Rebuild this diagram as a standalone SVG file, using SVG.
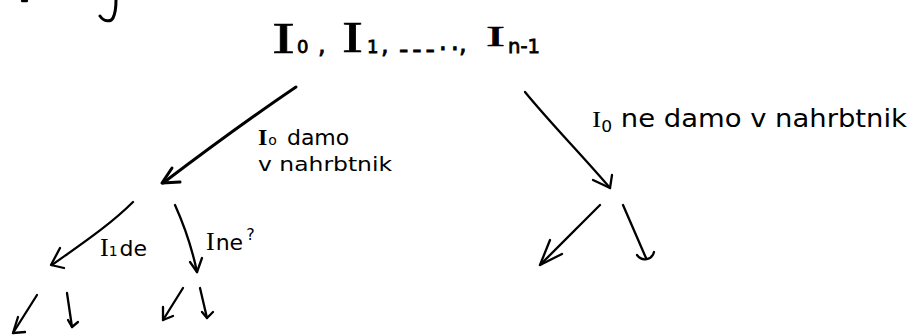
<svg xmlns="http://www.w3.org/2000/svg" width="913" height="336" viewBox="0 0 913 336">
<style>
.ln{fill:none;stroke:#000;stroke-width:2.3;stroke-linecap:round;stroke-linejoin:round}
.thick{stroke-width:3}
.t{font-family:"DejaVu Sans","Liberation Sans",sans-serif;fill:#000}
.cap{font-family:"Liberation Serif","DejaVu Serif",serif;fill:#000;stroke:#000;stroke-width:0.6}
.rt{font-family:"DejaVu Sans","Liberation Sans",sans-serif;fill:#000;stroke:#000;stroke-width:0.8}
</style>
<rect width="913" height="336" fill="#fff"/>
<g id="fragment">
<path class="ln thick" d="M116,0 C116,8 115,14 113,18 C111,22 104,22 100,16"/>
<path class="ln" d="M22,1 L27,1"/>
</g>
<g id="root">
<text class="cap" font-size="45" x="272" y="53" textLength="23" lengthAdjust="spacingAndGlyphs">I</text>
<text class="rt" font-size="18" x="297" y="53">0</text>
<text class="rt" font-size="24" x="318" y="53">,</text>
<text class="cap" font-size="44" x="342" y="52" textLength="21" lengthAdjust="spacingAndGlyphs">I</text>
<text class="rt" font-size="18" x="367" y="53">1</text>
<text class="rt" font-size="24" x="381" y="53">,</text>
<text class="rt" font-size="26" x="399" y="58" textLength="60" lengthAdjust="spacing">- - - · ·</text>
<text class="rt" font-size="24" x="459" y="52">,</text>
<text class="cap" font-size="30" x="486" y="46" textLength="19" lengthAdjust="spacingAndGlyphs">I</text>
<text class="rt" font-size="20" x="508" y="53" textLength="32" lengthAdjust="spacingAndGlyphs">n-1</text>
</g>
<g id="label-left">
<text class="t" x="258" y="145" font-size="22"><tspan font-family="Liberation Serif,serif" font-weight="bold" font-size="24">I</tspan><tspan font-size="14" dx="1">o</tspan><tspan dx="10">damo</tspan></text>
<text class="t" x="258" y="171" font-size="20" textLength="134" lengthAdjust="spacingAndGlyphs">v  nahrbtnik</text>
</g>
<g id="label-right">
<text class="t" x="592" y="127" font-size="24" textLength="315" lengthAdjust="spacingAndGlyphs"><tspan font-family="Liberation Serif,serif">I</tspan><tspan font-size="15" dy="5">0</tspan><tspan dy="-5"> ne  damo  v  nahrbtnik</tspan></text>
</g>
<g id="label-l1">
<text class="t" x="100" y="256" font-size="22"><tspan font-family="Liberation Serif,serif" font-size="26">I</tspan><tspan font-size="14">1</tspan><tspan dx="2">de</tspan></text>
</g>
<g id="label-l2">
<text class="t" x="206" y="250" font-size="22"><tspan font-family="Liberation Serif,serif" font-size="26">I</tspan><tspan dx="1">ne</tspan><tspan dx="3" dy="-10" font-size="16">?</tspan></text>
</g>
<g id="connectors">
<g id="c-root-left"><path class="ln thick" d="M296,87 C250,118 200,155 163,183"/><path class="ln thick" d="M172,168 L162,183 L180,182"/></g>
<g id="c-root-right"><path class="ln" d="M525,92 C552,125 582,155 610,188"/><path class="ln" d="M593,180 L610,188 L612,175"/></g>
<g id="c-l-l"><path class="ln" d="M133,202 C110,225 80,245 52,265"/><path class="ln" d="M60,248 L51,265 L64,268"/></g>
<g id="c-l-r"><path class="ln" d="M175,205 C184,225 192,248 197,272"/><path class="ln" d="M190,262 L197,272 L202,258"/></g>
<g id="c-ll-l"><path class="ln" d="M37,295 L13,333"/><path class="ln" d="M18,317 L13,333 L25,332"/></g>
<g id="c-ll-r"><path class="ln" d="M67,293 L72,327"/><path class="ln" d="M68,320 L72,327 L78,322"/></g>
<g id="c-lr-l"><path class="ln" d="M183,288 L163,320"/><path class="ln" d="M163,307 L163,320 L173,316"/></g>
<g id="c-lr-r"><path class="ln" d="M200,288 L207,318"/><path class="ln" d="M202,312 L207,318 L213,312"/></g>
<g id="c-r-l"><path class="ln" d="M600,205 L540,265"/><path class="ln" d="M550,240 L540,265 L562,254"/></g>
<g id="c-r-r"><path class="ln" d="M623,205 L646,258"/><path class="ln" d="M637,255 C642,262 652,260 654,252"/></g>
</g>
</svg>
